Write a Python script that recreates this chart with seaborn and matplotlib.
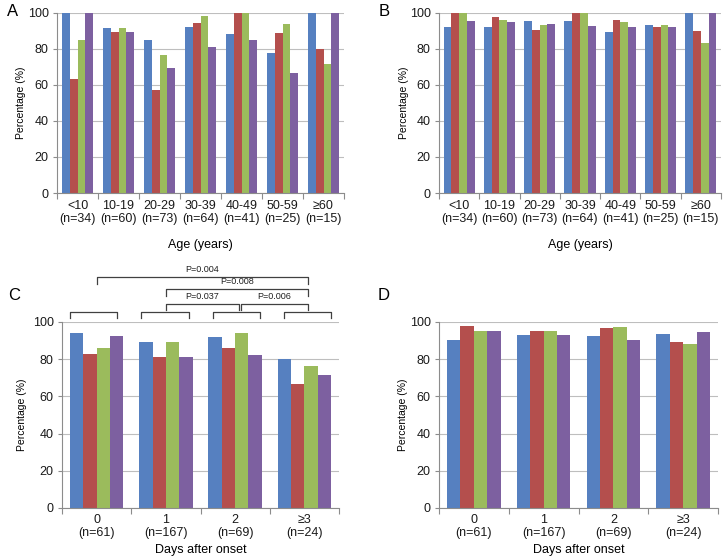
import matplotlib
matplotlib.use("Agg")
import matplotlib.pyplot as plt
import numpy as np
import pandas as pd
import seaborn as sb

# categorii
age_groups = ["<10\n(n=34)", "10-19\n(n=60)", "20-29\n(n=73)", "30-39\n(n=64)",
              "40-49\n(n=41)", "50-59\n(n=25)", "\u226560\n(n=15)"]
day_groups = ["0\n(n=61)", "1\n(n=167)", "2\n(n=69)", "\u22653\n(n=24)"]
serii = ["Serie 1", "Serie 2", "Serie 3", "Serie 4"]
culori = ["#5680C0", "#B44F4D", "#9BBB5C", "#7D60A0"]

# panou A
a_s1 = [100, 91.5, 85, 92, 88, 77.5, 100]
a_s2 = [63.5, 89.5, 57, 94.5, 100, 89, 80]
a_s3 = [85, 91.5, 76.5, 98, 100, 93.5, 71.5]
a_s4 = [100, 89.5, 69.5, 81, 85, 66.5, 100]

# panou B
b_s1 = [92.3, 91.8, 95.2, 95.2, 89.4, 93, 100]
b_s2 = [100, 97.6, 90.6, 100, 95.8, 92.2, 90]
b_s3 = [100, 95.8, 93, 100, 94.6, 93, 83]
b_s4 = [95.4, 95.1, 93.5, 92.4, 91.8, 92.2, 100]

# panou C
c_s1 = [94, 89, 92.2, 80.2]
c_s2 = [83, 81.4, 86, 66.8]
c_s3 = [86, 89, 94.2, 76.6]
c_s4 = [92.6, 81.4, 82.2, 71.7]

# panou D
d_s1 = [90.4, 92.8, 92.6, 93.8]
d_s2 = [97.8, 95.3, 96.8, 89.4]
d_s3 = [95, 95.3, 97.5, 88.3]
d_s4 = [95.4, 92.8, 90.4, 94.6]

# comparatii (grup1, grup2, nivel, eticheta)
comparatii = [(1, 2, 1, "P=0.037"), (2, 3, 1, "P=0.006"),
              (1, 3, 2, "P=0.008"), (0, 3, 3, "P=0.004")]

FONT = ["Liberation Sans", "DejaVu Sans"]
W, H = 725, 559


def axe(fig, stanga, sus, dreapta, jos):
    return fig.add_axes([stanga / W, (H - jos) / H, (dreapta - stanga) / W, (jos - sus) / H])


def panou(ax, cats, valori, xlabel, ypad, xpad, xlpad):
    t = pd.DataFrame({
        "cat": np.tile(cats, len(serii)),
        "serie": np.repeat(serii, len(cats)),
        "val": np.concatenate(valori),
    })
    sb.barplot(data=t, x="cat", y="val", hue="serie", order=cats, hue_order=serii,
               palette=culori, saturation=1, width=0.77, gap=0, linewidth=0,
               legend=False, ax=ax)
    n = len(cats)
    ax.set_xlim(-0.5, n - 0.5)
    ax.set_ylim(0, 100)
    ax.set_yticks(np.arange(0, 101, 20))
    ax.yaxis.grid(True, color="#BEBEBE", linewidth=0.8)
    ax.set_axisbelow(True)
    for s in ["top", "right"]:
        ax.spines[s].set_visible(False)
    for s in ["left", "bottom"]:
        ax.spines[s].set_color("#8C8C8C")
        ax.spines[s].set_linewidth(0.8)
    ax.set_xticks(np.arange(-0.5, n), minor=True)
    ax.tick_params(axis="x", which="major", length=0, pad=xpad, labelsize=9)
    ax.tick_params(axis="x", which="minor", length=4, color="#8C8C8C", width=0.8)
    ax.tick_params(axis="y", length=3, color="#8C8C8C", width=0.8, pad=3, labelsize=9)
    for lab in ax.get_xticklabels() + ax.get_yticklabels():
        lab.set_family(FONT)
        lab.set_color("#1A1A1A")
    for lab in ax.get_xticklabels():
        lab.set_linespacing(1.15)
    ax.set_xlabel(xlabel, fontsize=9, family=FONT, labelpad=xlpad)
    ax.set_ylabel("Percentage (%)", fontsize=7.5, family=FONT, labelpad=ypad)


fig = plt.figure(figsize=(W / 100, H / 100), dpi=100)

axA = axe(fig, 57, 12.7, 344, 193)
panou(axA, age_groups, [a_s1, a_s2, a_s3, a_s4], "Age (years)", 1, 5, 10)
axB = axe(fig, 439, 12.7, 721, 193)
panou(axB, age_groups, [b_s1, b_s2, b_s3, b_s4], "Age (years)", 0.5, 5, 10)
axC = axe(fig, 62, 322, 339, 508)
panou(axC, day_groups, [c_s1, c_s2, c_s3, c_s4], "Days after onset", 4, 4, 4)
axD = axe(fig, 439, 322, 718, 508)
panou(axD, day_groups, [d_s1, d_s2, d_s3, d_s4], "Days after onset", 1, 4, 4)

for lit, x, y in [("A", 13, 12), ("B", 384, 12), ("C", 14, 295), ("D", 384, 295)]:
    fig.text(x / W, 1 - y / H, lit, fontsize=12, family=FONT, ha="center", va="center")

# acolade deasupra grupurilor din C
tr = axC.get_xaxis_transform()
lin = dict(color="#404040", linewidth=0.9, clip_on=False, transform=tr)
for g in range(len(day_groups)):
    st = g - 0.38 + 0.027 * g
    dr = st + 0.68
    axC.plot([st, st, dr, dr], [1.022, 1.054, 1.054, 1.022], **lin)

niveluri = {1: (1.097, 1.065), 2: (1.177, 1.14), 3: (1.242, 1.204)}
for g1, g2, niv, et in comparatii:
    y_sus, y_jos = niveluri[niv]
    x1 = g1 + (0.09 if niv == 1 and g1 == 2 else 0.0)
    x2 = g2 + 0.05
    axC.plot([x1, x1, x2, x2], [y_jos, y_sus, y_sus, y_jos], **lin)
    axC.text((x1 + x2) / 2, y_sus + 0.015, et, transform=tr, fontsize=6.5,
             family=FONT, ha="center", va="bottom", color="#202020")

fig.savefig("out.png", dpi=100)
